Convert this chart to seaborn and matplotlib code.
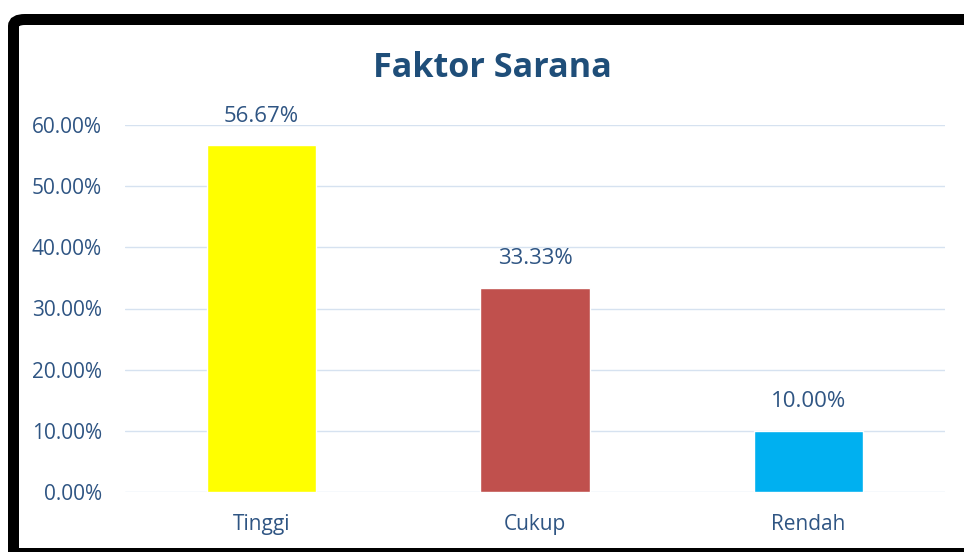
import matplotlib
matplotlib.use("Agg")
import matplotlib.pyplot as plt
import seaborn as sns
import pandas as pd
from matplotlib.patches import FancyBboxPatch, Rectangle
from matplotlib.ticker import FuncFormatter

categories = ["Tinggi", "Cukup", "Rendah"]
values = [0.5667, 0.3333, 0.10]
labels = ["56.67%", "33.33%", "10.00%"]
colors = ["#FFFF00", "#C0504D", "#00B0F0"]
yticks = [0.0, 0.1, 0.2, 0.3, 0.4, 0.5, 0.6]

sns.set_style("white")
plt.rcParams['font.family'] = ['Open Sans', 'DejaVu Sans']

W, H = 964, 552
fig = plt.figure(figsize=(W / 100, H / 100), dpi=100)
ax = fig.add_axes([125 / W, 1 - 492 / H, (945 - 125) / W, (492 - 125) / H])

df = pd.DataFrame({"cat": categories, "val": values})
sns.barplot(data=df, x="cat", y="val", hue="cat", palette=colors, width=0.4,
            legend=False, ax=ax, saturation=1)

ax.set_ylim(0, 0.6)
ax.set_yticks(yticks)
ax.yaxis.set_major_formatter(FuncFormatter(lambda v, p: f"{v*100:.2f}%"))
ax.grid(axis="y", color="#D6E2F0", linewidth=1)
ax.set_axisbelow(True)
for s in ax.spines.values():
    s.set_visible(False)
ax.set_xlabel("")
ax.set_ylabel("")
tick_color = "#2F5583"
ax.tick_params(axis="y", length=0, pad=16.5, labelsize=15, labelcolor=tick_color)
ax.tick_params(axis="x", length=0, pad=16, labelsize=15, labelcolor=tick_color)

for i, (v, lab) in enumerate(zip(values, labels)):
    ax.annotate(lab, (i, v), xytext=(0, 13.5), textcoords="offset points",
                ha="center", va="bottom", fontsize=16, color=tick_color,
                annotation_clip=False)

fig.text(492 / W, 1 - 68 / H, "Faktor Sarana", ha="center", va="center",
         fontsize=24.6, fontweight="bold", color="#1F4E79")

# black frame (rounded top-left corner, open right side)
lw_px = 11
box = FancyBboxPatch((13.5 / W, -40 / H), (1000 - 13.5) / W, (H - 19.5 + 40) / H,
                     boxstyle="round,pad=0,rounding_size=0.012",
                     transform=fig.transFigure, fill=False, edgecolor="black",
                     linewidth=lw_px * 72 / 100, clip_on=False)
fig.patches.append(box)
fig.patches.append(Rectangle((8 / W, 0), (W - 8) / W, 4 / H, transform=fig.transFigure,
                             facecolor="black", edgecolor="none"))

fig.savefig("out.png", dpi=100, facecolor="white")
